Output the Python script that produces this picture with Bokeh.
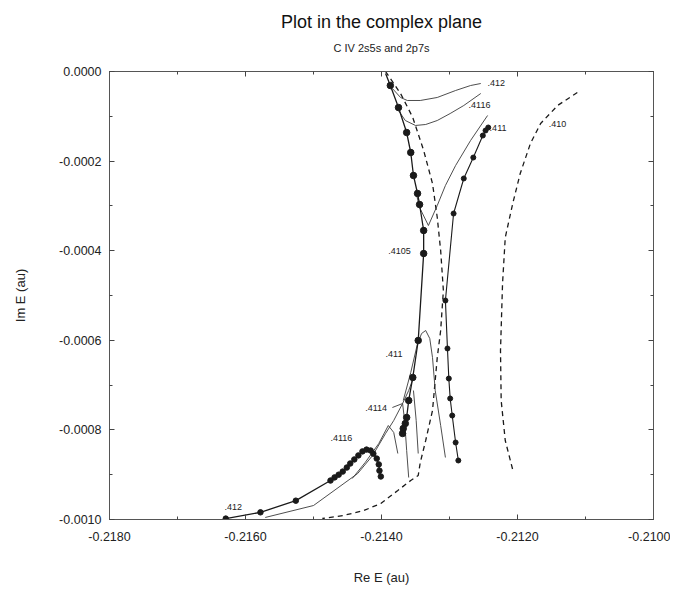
from bokeh.plotting import figure
from bokeh.models import Range1d, LinearAxis, FixedTicker, Title, PrintfTickFormatter
from bokeh.core.properties import value
from bokeh.embed import file_html
from bokeh.resources import INLINE

FONT = "Liberation Sans"

# ---- axis ticks ----
x_major = [-0.218, -0.216, -0.214, -0.212, -0.210]
x_minor = [-0.217, -0.215, -0.213, -0.211]
y_major = [0.0, -0.0002, -0.0004, -0.0006, -0.0008, -0.0010]
y_minor = [-0.0001, -0.0003, -0.0005, -0.0007, -0.0009]

# ---- marked trajectories (solid line + dots) ----
bl_x = [-0.21629, -0.21578, -0.21526, -0.21475, -0.21469, -0.21463, -0.21457, -0.21451,
        -0.21446, -0.21440, -0.21434, -0.21428, -0.21422, -0.21416, -0.21412, -0.21407,
        -0.21404, -0.21403, -0.21401]
bl_y = [-0.000998, -0.000984, -0.000958, -0.000913, -0.000906, -0.000900, -0.000893, -0.000884,
        -0.000875, -0.000866, -0.000857, -0.000848, -0.000844, -0.000846, -0.000853, -0.000864,
        -0.000877, -0.000891, -0.000904]

c_x = [-0.21394, -0.21387, -0.21375, -0.21363, -0.21357, -0.21353, -0.21347, -0.21344,
       -0.21338, -0.21338, -0.21346, -0.21354, -0.21360, -0.21363, -0.21365, -0.21368, -0.21369]
c_y = [-0.0000045, -0.0000313, -0.0000804, -0.0001362, -0.0001808, -0.0002321, -0.0002723,
       -0.0002969, -0.0003549, -0.0004063, -0.0006004, -0.0006830, -0.0007344, -0.0007723,
       -0.0007857, -0.0007969, -0.0008080]

r_x = [-0.21243, -0.21247, -0.21251, -0.21265, -0.21279, -0.21294, -0.21306, -0.21303,
       -0.21301, -0.21299, -0.21296, -0.21291, -0.21287]
r_y = [-0.0001250, -0.0001317, -0.0001429, -0.0001920, -0.0002388, -0.0003170, -0.0005112,
       -0.0006183, -0.0006853, -0.0007299, -0.0007679, -0.0008281, -0.0008683]

# ---- dashed trajectories ----
dm_x = [-0.21394, -0.21372, -0.21354, -0.21338, -0.21325, -0.21318, -0.21313, -0.21309,
        -0.21313, -0.21318, -0.21325, -0.21335, -0.21343, -0.21346, -0.21357, -0.21376,
        -0.21401, -0.21426, -0.21456, -0.21487]
dm_y = [0.0, -0.0000491, -0.0001027, -0.0001763, -0.0002500, -0.0003259, -0.0003996, -0.0004888,
        -0.0005781, -0.0006384, -0.0007567, -0.0008237, -0.0008728, -0.0009018, -0.0009129,
        -0.0009353, -0.0009643, -0.0009799, -0.0009911, -0.0009978]

d410_x = [-0.21112, -0.21141, -0.21166, -0.21181, -0.21196, -0.21207, -0.21218, -0.21222,
          -0.21225, -0.21224, -0.21218, -0.21206]
d410_y = [-0.0000469, -0.0000759, -0.0001161, -0.0001607, -0.0002277, -0.0002946, -0.0003705,
          -0.0004732, -0.0006228, -0.0007344, -0.0008237, -0.0008951]

# ---- thin trajectories ----
t412_x = [-0.21384, -0.21372, -0.21362, -0.21343, -0.21318, -0.21291, -0.21269, -0.21254]
t412_y = [-0.0000379, -0.0000580, -0.0000647, -0.0000647, -0.0000580, -0.0000424, -0.0000313, -0.0000268]

t4116_x = [-0.21375, -0.21365, -0.21350, -0.21335, -0.21318, -0.21299, -0.21279, -0.21254]
t4116_y = [-0.0000871, -0.0001094, -0.0001205, -0.0001183, -0.0001094, -0.0000938, -0.0000759, -0.0000491]

tv_x = [-0.21350, -0.21344, -0.21331, -0.21318, -0.21306, -0.21291, -0.21269, -0.21244]
tv_y = [-0.0002656, -0.0003036, -0.0003438, -0.0002991, -0.0002545, -0.0002098, -0.0001540, -0.0000982]

tcap_x = [-0.21368, -0.21357, -0.21347, -0.21341, -0.21335, -0.21329, -0.21325, -0.21321, -0.21313, -0.21306]
tcap_y = [-0.0007344, -0.0006719, -0.0006071, -0.0005848, -0.0005781, -0.0005960, -0.0006384,
          -0.0007121, -0.0007902, -0.0008616]

t4114_x = [-0.21384, -0.21369, -0.21366, -0.21363, -0.21360]
t4114_y = [-0.0007500, -0.0007411, -0.0007790, -0.0008460, -0.0009063]

tshort_x = [-0.21353, -0.21349, -0.21346]
tshort_y = [-0.0007121, -0.0007790, -0.0008527]

tbl1_x = [-0.21571, -0.21500, -0.21435, -0.21413, -0.21394, -0.21382, -0.21369, -0.21360, -0.21353]
tbl1_y = [-0.0009955, -0.0009688, -0.0008973, -0.0008571, -0.0008080, -0.0007790, -0.0007411,
          -0.0007121, -0.0006830]

tbl2_x = [-0.21443, -0.21424, -0.21404, -0.21390, -0.21382, -0.21376]
tbl2_y = [-0.0009085, -0.0008728, -0.0008304, -0.0007902, -0.0008058, -0.0008527]

# ---- parameter labels ----
lab_text = [".412", ".4116", ".411", ".410", ".4105", ".411", ".4114", ".4116", ".412"]
lab_x = [-0.21244, -0.21272, -0.21241, -0.21154, -0.21390, -0.21394, -0.21424, -0.21475, -0.21631]
lab_y = [-0.0000246, -0.0000737, -0.0001272, -0.0001161, -0.0003996, -0.0006295, -0.0007522,
         -0.0008170, -0.0009710]

INK = "#1a1a1a"
THIN = "#3a3a3a"

p = figure(width=670, height=587, output_backend="svg", toolbar_location=None,
           x_range=Range1d(-0.218, -0.210), y_range=Range1d(-0.0010, 0.0),
           title=None, background_fill_color="white", border_fill_color="white",
           min_border_left=109, min_border_right=17, min_border_top=71, min_border_bottom=64)
p.grid.visible = False
p.outline_line_color = "#555555"

xt = FixedTicker(ticks=x_major, minor_ticks=x_minor)
yt = FixedTicker(ticks=y_major, minor_ticks=y_minor)

def style_axis(ax, labels=True):
    ax.axis_line_color = "#555555"
    ax.major_tick_in = 5
    ax.major_tick_out = 0
    ax.minor_tick_in = 3
    ax.minor_tick_out = 0
    ax.major_tick_line_color = "#444444"
    ax.minor_tick_line_color = "#444444"
    ax.formatter = PrintfTickFormatter(format="%.4f")
    if labels:
        ax.major_label_text_font = FONT
        ax.major_label_text_font_size = "12.5px"
        ax.major_label_text_color = "#222222"
        ax.axis_label_text_font = FONT
        ax.axis_label_text_font_style = "normal"
        ax.axis_label_text_font_size = "13px"
        ax.axis_label_text_color = "#222222"
    else:
        ax.major_label_text_font_size = "0px"
        ax.major_label_text_color = None
        ax.major_label_standoff = 0
        ax.axis_label = None

p.xaxis.ticker = xt
p.yaxis.ticker = yt
p.xaxis.axis_label = "Re E (au)"
p.yaxis.axis_label = "Im E (au)"
style_axis(p.xaxis[0])
style_axis(p.yaxis[0])
p.xaxis.major_label_standoff = 12
p.yaxis.major_label_standoff = 8
p.xaxis.axis_label_standoff = 26
p.yaxis.axis_label_standoff = 28

top_ax = LinearAxis(ticker=xt)
style_axis(top_ax, labels=False)
right_ax = LinearAxis(ticker=yt)
style_axis(right_ax, labels=False)
p.add_layout(top_ax, "above")
p.add_layout(right_ax, "right")

p.add_layout(Title(text="C IV 2s5s and 2p7s", align="center", text_font=FONT, standoff=35,
                   text_font_size="11px", text_font_style="normal", text_color="#222222"), "above")
p.add_layout(Title(text="Plot in the complex plane", align="center", text_font=FONT, standoff=-18,
                   text_font_size="18px", text_font_style="normal", text_color="#111111"), "above")

# dashed curves
p.line(dm_x, dm_y, line_color=INK, line_width=1.3, line_dash="5 4")
p.line(d410_x, d410_y, line_color=INK, line_width=1.3, line_dash="5 4")

# thin curves
for xs, ys in [(t412_x, t412_y), (t4116_x, t4116_y), (tv_x, tv_y), (tcap_x, tcap_y),
               (t4114_x, t4114_y), (tshort_x, tshort_y), (tbl1_x, tbl1_y), (tbl2_x, tbl2_y)]:
    p.line(xs, ys, line_color=THIN, line_width=0.9)

# marked curves
p.line(bl_x, bl_y, line_color=INK, line_width=1.3)
p.scatter(bl_x, bl_y, size=5.5, fill_color=INK, line_color=INK)
p.line(c_x, c_y, line_color=INK, line_width=1.3)
p.scatter(c_x[1:], c_y[1:], size=6.5, fill_color=INK, line_color=INK)
p.line(r_x, r_y, line_color=INK, line_width=1.1)
p.scatter(r_x, r_y, size=5, fill_color=INK, line_color=INK)

p.text(x=lab_x, y=lab_y, text=lab_text, text_font=value(FONT), text_font_size="9px",
       text_baseline="middle", text_align="left", text_color="#222222")

open("out.html", "w").write(file_html(p, INLINE))
